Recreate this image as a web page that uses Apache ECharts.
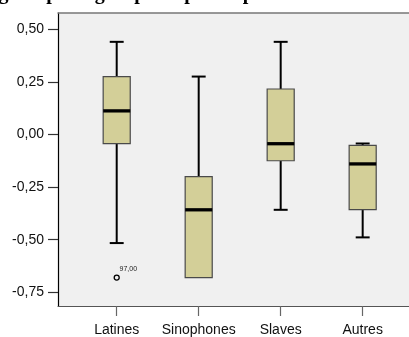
<!DOCTYPE html>
<html>
<head>
<meta charset="utf-8">
<script src="https://cdn.jsdelivr.net/npm/echarts@6/dist/echarts.min.js"></script>
<style>
  html, body { margin: 0; padding: 0; background: #ffffff; }
  #chart { width: 409px; height: 337px; }
</style>
</head>
<body>
<div id="chart"></div>
<script>
// Données
const categories = ['Latines', 'Sinophones', 'Slaves', 'Autres'];
const whiskerLow = [-0.516, -0.680, -0.358, -0.489];
const q1 = [-0.044, -0.680, -0.125, -0.357];
const median = [0.112, -0.358, -0.044, -0.140];
const q3 = [0.275, -0.200, 0.216, -0.052];
const whiskerHigh = [0.440, 0.275, 0.440, -0.043];
const outlierCat = [0];
const outlierValue = [-0.680];
const outlierLabel = ['97,00'];
const yTicks = [-0.75, -0.50, -0.25, 0.00, 0.25, 0.50];

const chart = echarts.init(document.getElementById('chart'));

const boxData = categories.map((c, i) => [i, whiskerLow[i], q1[i], median[i], q3[i], whiskerHigh[i]]);

function renderBox(params, api) {
  const i = api.value(0);
  const pLow = api.coord([i, api.value(1)]);
  const pQ1 = api.coord([i, api.value(2)]);
  const pMed = api.coord([i, api.value(3)]);
  const pQ3 = api.coord([i, api.value(4)]);
  const pHigh = api.coord([i, api.value(5)]);
  const boxW = api.size([0.33, 0])[0];
  const capW = api.size([0.17, 0])[0];
  const x = pQ1[0];
  const children = [];
  const line = { stroke: '#000', lineWidth: 2 };
  // moustache haute
  if (pHigh[1] < pQ3[1] - 0.5) {
    children.push({ type: 'line', shape: { x1: x, y1: pHigh[1], x2: x, y2: pQ3[1] }, style: line });
    children.push({ type: 'line', shape: { x1: x - capW / 2, y1: pHigh[1], x2: x + capW / 2, y2: pHigh[1] }, style: line });
  }
  // moustache basse
  if (pLow[1] > pQ1[1] + 0.5) {
    children.push({ type: 'line', shape: { x1: x, y1: pQ1[1], x2: x, y2: pLow[1] }, style: line });
    children.push({ type: 'line', shape: { x1: x - capW / 2, y1: pLow[1], x2: x + capW / 2, y2: pLow[1] }, style: line });
  }
  children.push({
    type: 'rect',
    shape: { x: x - boxW / 2, y: pQ3[1], width: boxW, height: pQ1[1] - pQ3[1] },
    style: { fill: '#D3CF98', stroke: '#4a4a4a', lineWidth: 1.2 }
  });
  children.push({
    type: 'line',
    shape: { x1: x - boxW / 2, y1: pMed[1], x2: x + boxW / 2, y2: pMed[1] },
    style: { stroke: '#000', lineWidth: 3.3 }
  });
  return { type: 'group', children: children };
}

const option = {
  animation: false,
  backgroundColor: '#ffffff',
  graphic: [{
    type: 'text',
    left: -37,
    top: -16,
    style: {
      text: 'Rang des pôles groupe de pointe par niveau',
      font: 'bold 20px "Liberation Serif"',
      fill: '#000'
    }
  }],
  grid: {
    left: 58,
    right: 0,
    top: 13,
    bottom: 29,
    show: true,
    backgroundColor: '#F0F0F0',
    borderWidth: 0
  },
  xAxis: [{
    type: 'value',
    min: -0.716,
    max: 3.565,
    position: 'bottom',
    axisLine: { onZero: false, lineStyle: { color: '#555', width: 1.2 } },
    axisTick: { customValues: [0, 1, 2, 3], length: 10, lineStyle: { color: '#666', width: 1.2 } },
    axisLabel: {
      customValues: [0, 1, 2, 3],
      formatter: v => categories[Math.round(v)],
      color: '#111',
      fontFamily: 'Liberation Sans',
      fontSize: 14,
      margin: 17
    },
    splitLine: { show: false }
  }, {
    type: 'value',
    min: -0.716,
    max: 3.565,
    position: 'top',
    axisLine: { onZero: false, lineStyle: { color: '#777', width: 1.5 } },
    axisTick: { show: false },
    axisLabel: { show: false },
    splitLine: { show: false }
  }],
  yAxis: {
    type: 'value',
    min: -0.815,
    max: 0.577,
    axisLine: { show: true, onZero: false, lineStyle: { color: '#000', width: 1.2 } },
    axisTick: { show: true, customValues: yTicks, length: 10, lineStyle: { color: '#333', width: 1.2 } },
    axisLabel: {
      customValues: yTicks,
      formatter: v => v.toFixed(2).replace('.', ','),
      color: '#111',
      fontFamily: 'Liberation Sans',
      fontSize: 14,
      margin: 14
    },
    splitLine: { show: false }
  },
  series: [{
    type: 'custom',
    renderItem: renderBox,
    encode: { x: 0, y: [1, 2, 3, 4, 5] },
    data: boxData,
    z: 3
  }, {
    type: 'scatter',
    symbol: 'circle',
    symbolSize: 5,
    itemStyle: { color: '#F0F0F0', borderColor: '#000', borderWidth: 1.3, opacity: 1 },
    label: {
      show: true,
      position: [6, -5],
      align: 'left',
      verticalAlign: 'middle',
      formatter: p => outlierLabel[p.dataIndex],
      fontSize: 7,
      fontFamily: 'Liberation Sans',
      color: '#222'
    },
    data: outlierCat.map((c, i) => [c, outlierValue[i]]),
    z: 4
  }]
};

chart.setOption(option);
</script>
</body>
</html>
